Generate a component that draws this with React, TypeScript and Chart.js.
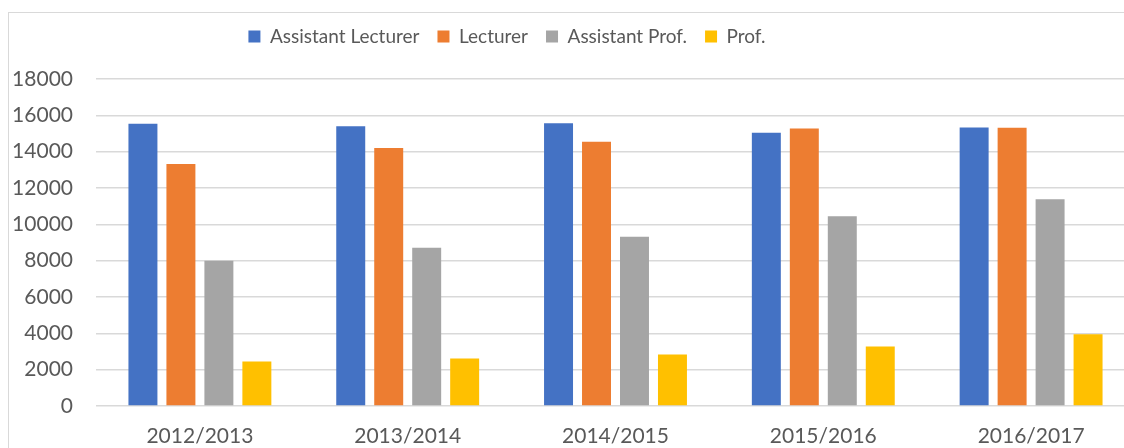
import React, { useEffect, useRef } from "react";
import { Chart, registerables } from "chart.js";

Chart.register(...registerables);

const categories = ["2012/2013", "2013/2014", "2014/2015", "2015/2016", "2016/2017"];
const assistantLecturer = [15530, 15400, 15570, 15040, 15330];
const lecturer = [13320, 14200, 14540, 15280, 15310];
const assistantProf = [8000, 8710, 9310, 10450, 11380];
const prof = [2450, 2620, 2840, 3280, 3950];
const seriesNames = ["Assistant Lecturer", "Lecturer", "Assistant Prof.", "Prof."];
const seriesColors = ["#4472C4", "#ED7D31", "#A5A5A5", "#FFC000"];

const FONT = "Lato, 'Liberation Sans', sans-serif";
const TEXT = "#595959";
const GRID = "#d9d9d9";

const CANVAS_W = 1135;
const CANVAS_H = 470;
const PLOT_LEFT = 96;
const PLOT_BOTTOM = 406;
const LEGEND_CENTER = 507;
const LEGEND_TOP = 9;

const legendShift = {
  id: "legendShift",
  afterLayout(chart: any) {
    const lg = chart.legend;
    if (!lg) return;
    const c = (lg.left + lg.right) / 2;
    const dx = LEGEND_CENTER - c;
    lg.left += dx;
    lg.right += dx;
    const dy = LEGEND_TOP - lg.top;
    lg.top += dy;
    lg.bottom += dy;
  },
};

export default function App() {
  const ref = useRef<HTMLCanvasElement | null>(null);

  useEffect(() => {
    if (!ref.current) return;
    const data = [assistantLecturer, lecturer, assistantProf, prof];
    const chart = new Chart(ref.current, {
      type: "bar",
      data: {
        labels: categories,
        datasets: data.map((d, i) => ({
          label: seriesNames[i],
          data: d,
          backgroundColor: seriesColors[i],
          borderWidth: 0,
          categoryPercentage: 0.731,
          barPercentage: 0.763,
        })),
      },
      options: {
        animation: false,
        responsive: false,
        maintainAspectRatio: false,
        layout: { padding: { top: 32, left: 0, right: 0, bottom: 0 } },
        plugins: {
          legend: {
            position: "top",
            align: "center",
            labels: {
              boxWidth: 12,
              boxHeight: 12,
              padding: 18,
              color: TEXT,
              font: { family: FONT, size: 19 },
            },
          },
          tooltip: { enabled: false },
        },
        scales: {
          x: {
            grid: { display: false, drawTicks: false },
            border: { display: false },
            ticks: { color: TEXT, font: { family: FONT, size: 21 }, padding: 18 },
            afterFit(scale: any) {
              scale.height = CANVAS_H - PLOT_BOTTOM;
            },
          },
          y: {
            min: 0,
            max: 18000,
            ticks: {
              stepSize: 2000,
              color: TEXT,
              font: { family: FONT, size: 21 },
              padding: 23,
              callback: (v: any) => String(v),
            },
            grid: { color: GRID, lineWidth: 1.5, drawTicks: false },
            border: { display: false },
            afterFit(scale: any) {
              scale.width = PLOT_LEFT;
            },
          },
        },
      },
      plugins: [legendShift],
    });
    return () => chart.destroy();
  }, []);

  return (
    <div
      style={{
        position: "fixed",
        left: 0,
        top: 0,
        width: 1124,
        height: 448,
        overflow: "hidden",
        background: "#fff",
      }}
    >
      <div
        style={{
          position: "absolute",
          left: 8,
          top: 12,
          width: 1200,
          height: 500,
          border: "1px solid #d9d9d9",
          boxSizing: "border-box",
        }}
      />
      <canvas
        ref={ref}
        width={CANVAS_W}
        height={CANVAS_H}
        style={{ position: "absolute", left: 0, top: 0, width: CANVAS_W, height: CANVAS_H }}
      />
    </div>
  );
}
